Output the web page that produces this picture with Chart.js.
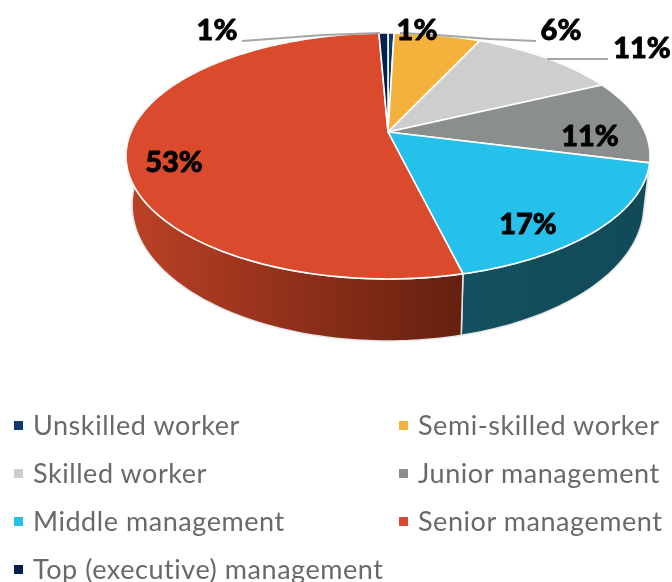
<!DOCTYPE html>
<html>
<head>
<meta charset="utf-8">
<script src="https://cdn.jsdelivr.net/npm/chart.js@4"></script>
<style>
  html, body { margin: 0; padding: 0; background: #fff; }
  #wrap { position: relative; width: 672px; height: 582px; overflow: hidden; }
  #legend span { position: absolute; font: 27px Lato, sans-serif; color: #696969; letter-spacing: 0.55px; white-space: nowrap; line-height: 30px; }
  #legend i { position: absolute; width: 9px; height: 9px; }
</style>
</head>
<body>
<div id="wrap">
  <canvas id="myChart" width="672" height="582"></canvas>
  <div id="legend"></div>
</div>
<script>
const categories = ['Unskilled worker', 'Semi-skilled worker', 'Skilled worker', 'Junior management', 'Middle management', 'Senior management', 'Top (executive) management'];
const values = [0.45, 6.45, 11, 11.1, 17.2, 53.13, 0.67];
const tickLabels = ['1%', '1%', '6%', '11%', '11%', '17%', '53%'];
const colors = ['#0f3a6e', '#f4b13b', '#cdcecd', '#8b8e8e', '#25c1eb', '#da4a2c', '#00214c'];
const sideFrom = ['#0a2748', '#a5772a', '#8b8c8b', '#5d6060', '#14505f', '#bc4126', '#00142e'];
const sideTo = ['#0a2748', '#a5772a', '#8b8c8b', '#5d6060', '#114a59', '#64200f', '#00142e'];

// label centres and leader lines, in the order of tickLabels
const labelPos = [[217, 31], [417, 31], [561, 31], [642, 49], [590, 137], [528, 225], [174, 163]];
const leaders = [
  [[242, 41], [323, 35], [380, 33]],
  null,
  [[536, 41], [490, 39], [437, 35], [400, 33]],
  [[608, 59], [547, 59]],
  null, null, null
];

// perspective of the disc
const K = 0.195, SX = 257 / 132, SY = 118.3 / 132;
const DEPTH_DY = 46.5, DEPTH_SCALE = 251 / 257, DEPTH_SY = 130.8 / 118.3;

function project(arc, angle, bottom) {
  const c = Math.cos(angle), s = Math.sin(angle), r = arc.outerRadius;
  const w = 1 - K * s;
  const dx = r * SX * c / w * (bottom ? DEPTH_SCALE : 1);
  const dy = r * SY * s / w * (bottom ? DEPTH_SY : 1);
  return { x: arc.x + dx, y: arc.y + dy + (bottom ? DEPTH_DY : 0) };
}

function arcPoints(arc, from, to, bottom) {
  const pts = [];
  const n = Math.max(2, Math.ceil((to - from) / 0.02));
  for (let i = 0; i <= n; i++) pts.push(project(arc, from + (to - from) * i / n, bottom));
  return pts;
}

const pie3d = {
  id: 'pie3d',
  beforeDatasetsDraw(chart) {
    const ctx = chart.ctx;
    const arcs = chart.getDatasetMeta(0).data;
    ctx.save();
    ctx.lineJoin = 'round';
    // side wall
    arcs.forEach((arc, i) => {
      const top = arcPoints(arc, arc.startAngle, arc.endAngle, false);
      const bot = arcPoints(arc, arc.startAngle, arc.endAngle, true).reverse();
      const xs = top.concat(bot).map(p => p.x);
      const grad = ctx.createLinearGradient(Math.min(...xs), 0, Math.max(...xs), 0);
      grad.addColorStop(0, sideFrom[i]);
      grad.addColorStop(1, sideTo[i]);
      ctx.beginPath();
      top.concat(bot).forEach((p, j) => j ? ctx.lineTo(p.x, p.y) : ctx.moveTo(p.x, p.y));
      ctx.closePath();
      ctx.fillStyle = grad;
      ctx.fill();
      ctx.strokeStyle = '#e6e6e6';
      ctx.lineWidth = 1.5;
      ctx.stroke();
    });
    // top face
    arcs.forEach(arc => {
      ctx.beginPath();
      ctx.moveTo(arc.x, arc.y);
      arcPoints(arc, arc.startAngle, arc.endAngle, false).forEach(p => ctx.lineTo(p.x, p.y));
      ctx.closePath();
      ctx.fillStyle = arc.options.backgroundColor;
      ctx.fill();
      ctx.strokeStyle = '#ffffff';
      ctx.lineWidth = 1.6;
      ctx.stroke();
    });
    ctx.restore();
    return false;
  },
  afterDraw(chart) {
    const ctx = chart.ctx;
    ctx.save();
    ctx.strokeStyle = '#a6a6a6';
    ctx.lineWidth = 2;
    leaders.forEach(line => {
      if (!line) return;
      ctx.beginPath();
      line.forEach((p, j) => j ? ctx.lineTo(p[0], p[1]) : ctx.moveTo(p[0], p[1]));
      ctx.stroke();
    });
    ctx.fillStyle = '#000';
    ctx.strokeStyle = '#000';
    ctx.lineWidth = 0.8;
    ctx.lineJoin = 'round';
    ctx.font = '900 29px Lato, sans-serif';
    ctx.textAlign = 'center';
    ctx.textBaseline = 'middle';
    tickLabels.forEach((t, i) => {
      ctx.fillText(t, labelPos[i][0], labelPos[i][1]);
      ctx.strokeText(t, labelPos[i][0], labelPos[i][1]);
    });
    ctx.restore();
  }
};

new Chart(document.getElementById('myChart'), {
  type: 'pie',
  data: {
    labels: categories,
    datasets: [{ data: values, backgroundColor: colors, borderWidth: 0 }]
  },
  options: {
    responsive: false,
    animation: false,
    layout: { padding: { left: 104, bottom: 318 } },
    plugins: { legend: { display: false }, tooltip: { enabled: false } }
  },
  plugins: [pie3d]
});

// legend in two columns
const legend = document.getElementById('legend');
categories.forEach((name, i) => {
  const col = i % 2, row = Math.floor(i / 2);
  const mark = document.createElement('i');
  mark.style.cssText = 'left:' + (col ? 399 : 14) + 'px;top:' + (421 + row * 48) + 'px;background:' + colors[i];
  const text = document.createElement('span');
  text.textContent = name;
  text.style.cssText = 'left:' + (col ? 418 : 33) + 'px;top:' + (410 + row * 48) + 'px';
  legend.appendChild(mark);
  legend.appendChild(text);
});
</script>
</body>
</html>
